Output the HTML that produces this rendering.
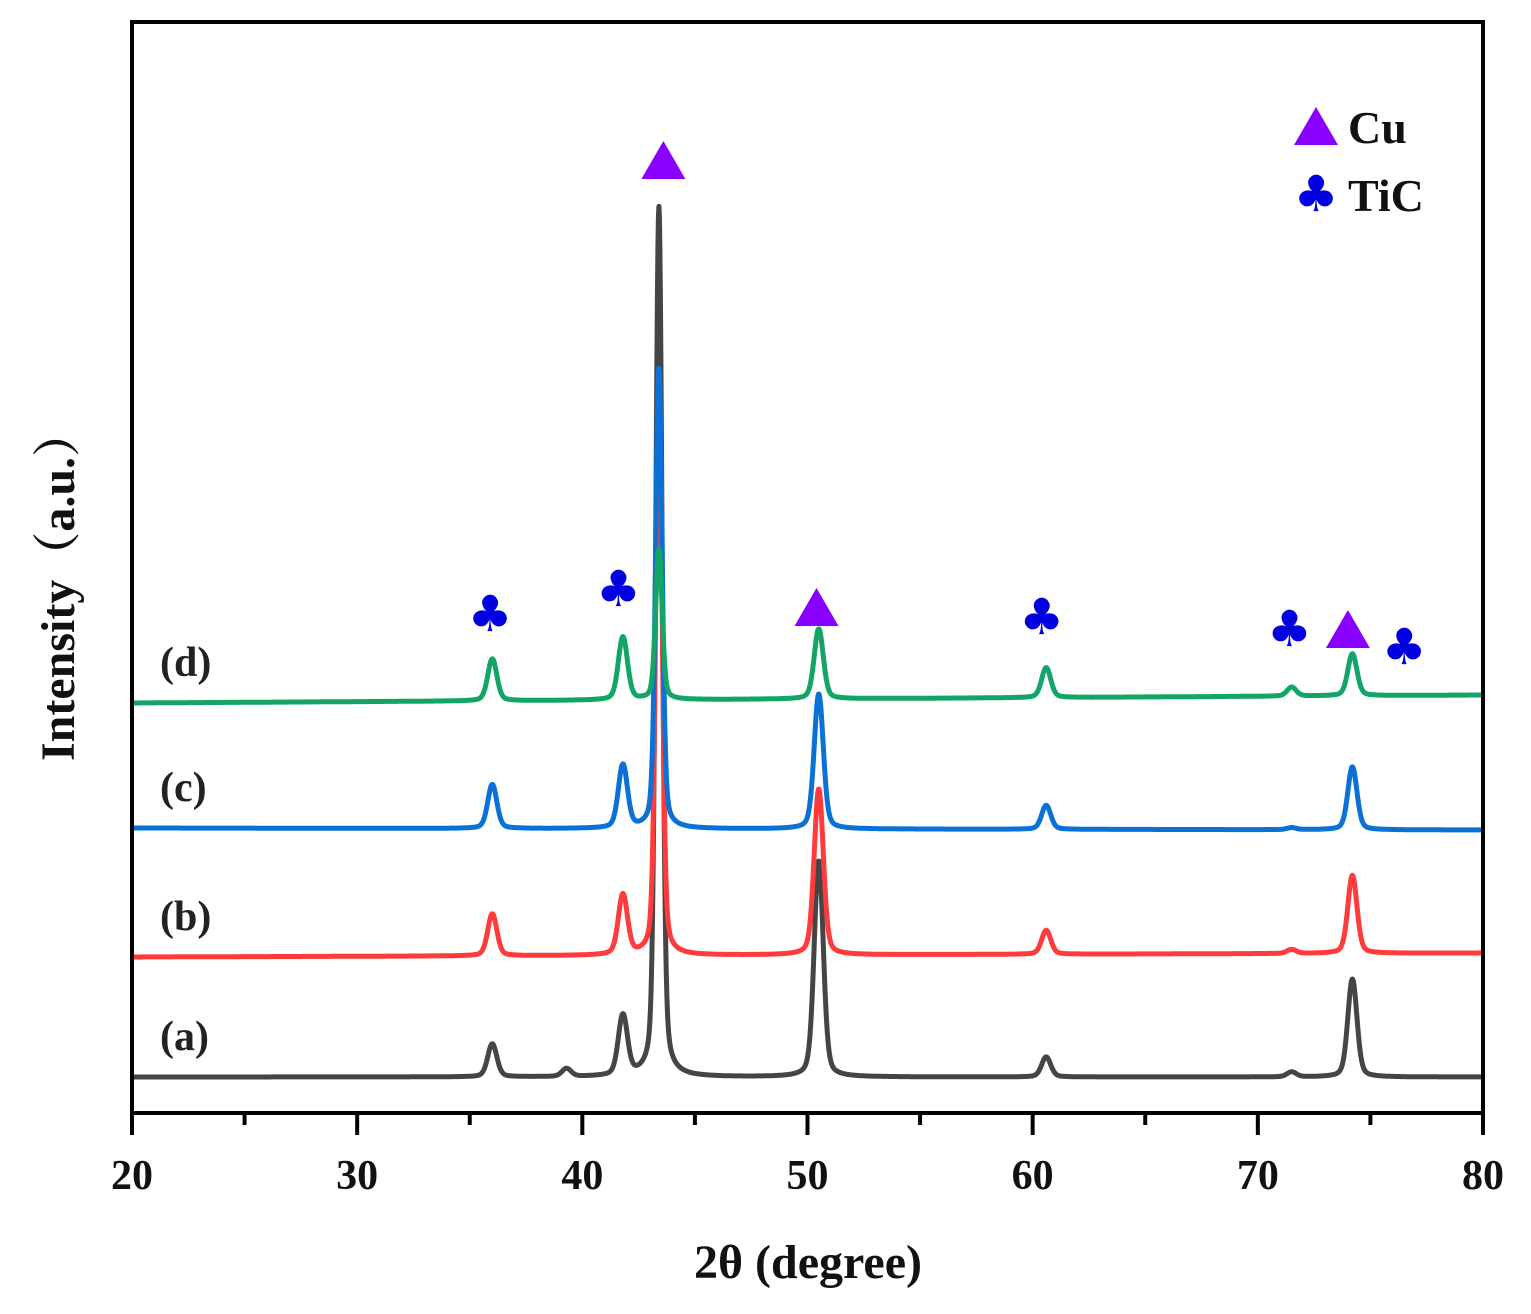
<!DOCTYPE html>
<html><head><meta charset="utf-8">
<style>
html,body{margin:0;padding:0;background:#fff;}
svg{display:block;font-family:"Liberation Serif","Noto Serif CJK SC",serif;font-weight:bold;}
</style></head>
<body>
<svg id="chart" width="1531" height="1314" viewBox="0 0 1531 1314" xmlns="http://www.w3.org/2000/svg">
<g id="series-layer"></g>
<g id="axis-layer"></g>
<g id="marker-layer"></g>
</svg>
<script>
// ---- data ----
const seriesNames = ["(a)", "(b)", "(c)", "(d)"];
const seriesColors = ["#454545", "#ff3b3b", "#0a72d6", "#12a567"];
const baselineLeft = [36, 156, 285, 410];
const baselineRight = [36, 160, 283, 418];
const peakPositions = [36.0, 39.3, 41.8, 43.4, 50.5, 60.6, 71.5, 74.2];
const peakHeightsA = [33, 8, 60, 870, 216, 20, 5, 98];
const peakHeightsB = [42, 0, 60, 560, 166, 24, 4, 78];
const peakHeightsC = [44, 0, 63, 460, 135, 24, 2, 63];
const peakHeightsD = [42, 0, 63, 150, 70, 30, 9, 42];
const peakHeights = [peakHeightsA, peakHeightsB, peakHeightsC, peakHeightsD];
const xTicks = [20, 30, 40, 50, 60, 70, 80];
const xMinorTicks = [25, 35, 45, 55, 65, 75];
const cuMarkers = [[43.6, 952], [50.4, 505], [74.0, 483]];
const ticMarkers = [[35.9, 498], [41.6, 523], [60.4, 495], [71.4, 483], [76.5, 465]];

// ---- scales ----
const X0 = 132, X1 = 1483, YB = 1113, YT = 22;
const xScale = d => X0 + (d - 20) / 60 * (X1 - X0);
const yScale = v => YB - v;
const NS = "http://www.w3.org/2000/svg";
function mk(tag, attrs, parent){const e=document.createElementNS(NS,tag);for(const k in attrs)e.setAttribute(k,attrs[k]);parent.appendChild(e);return e;}

const sLayer = document.getElementById('series-layer');
for (let s = 0; s < 4; s++) {
  let d = "";
  for (let px = 0; px <= 2700; px++) {
    const t = 20 + px / 2700 * 60;
    let v = baselineLeft[s] + (baselineRight[s] - baselineLeft[s]) * (t - 20) / 60;
    for (let p = 0; p < peakPositions.length; p++) {
      const w = peakPositions[p] === 43.4 ? 0.2 : 0.28;
      const dx = (t - peakPositions[p]) / w;
      v += peakHeights[s][p] * (0.75 * Math.exp(-dx * dx) + 0.25 / (1 + dx * dx));
    }
    d += (px ? "L" : "M") + xScale(t).toFixed(1) + " " + yScale(v).toFixed(1);
  }
  const path = mk('path', {d: d, fill: "none", stroke: seriesColors[s], "stroke-width": 5, "stroke-linejoin": "round"}, sLayer);
  
  
  const lab = mk('text', {x: 160, y: yScale(baselineLeft[s]) - 27, "font-size": 42, fill: "#222"}, sLayer);
  lab.textContent = seriesNames[s];
  
  
}

// ---- axes ----
const aLayer = document.getElementById('axis-layer');
const frame = mk('rect', {x: X0, y: YT, width: X1 - X0, height: YB - YT, fill: "none", stroke: "#000", "stroke-width": 4}, aLayer);


xTicks.forEach(t => {
  const l = mk('line', {x1: xScale(t), x2: xScale(t), y1: YB, y2: YB + 22, stroke: "#000", "stroke-width": 4}, aLayer);
  
  
  const tx = mk('text', {x: xScale(t), y: YB + 76, "font-size": 42, "text-anchor": "middle", fill: "#111"}, aLayer);
  tx.textContent = t;
  
  
});
xMinorTicks.forEach(t => {
  const l = mk('line', {x1: xScale(t), x2: xScale(t), y1: YB, y2: YB + 12, stroke: "#000", "stroke-width": 4}, aLayer);
  
  
});
const xt = mk('text', {x: 808, y: 1278, "font-size": 48, "text-anchor": "middle", fill: "#111"}, aLayer);
xt.textContent = "2θ (degree)";


const yt = mk('text', {x: 0, y: 0, "font-size": 48, "text-anchor": "middle", fill: "#111", transform: "translate(74,585) rotate(-90)"}, aLayer);
yt.textContent = "Intensity（a.u.）";



// ---- markers ----
const mLayer = document.getElementById('marker-layer');
function tri(cx, cy, parent){
  return mk('polygon', {points: `${cx-22},${cy+18} ${cx+22},${cy+18} ${cx},${cy-20}`, fill: "#8a00ff"}, parent);
}
function club(cx, cy, parent){
  const t = mk('text', {x: cx, y: cy + 16, "font-size": 50, "text-anchor": "middle", fill: "#0000e0", "font-family": "DejaVu Sans, sans-serif"}, parent);
  t.textContent = "♣";
  return t;
}
cuMarkers.forEach(m => {
  const e = tri(xScale(m[0]), yScale(m[1]), mLayer);
  
  
});
ticMarkers.forEach(m => {
  const e = club(xScale(m[0]), yScale(m[1]), mLayer);
  
  
});
const lg = mk('g', {}, mLayer);


const lt1 = tri(1316, 127, lg);


const l1 = mk('text', {x: 1348, y: 143, "font-size": 46, fill: "#111"}, lg);
l1.textContent = "Cu";


const lc = club(1316, 195, lg);


const l2 = mk('text', {x: 1348, y: 211, "font-size": 46, fill: "#111"}, lg);
l2.textContent = "TiC";


</script>
</body></html>
